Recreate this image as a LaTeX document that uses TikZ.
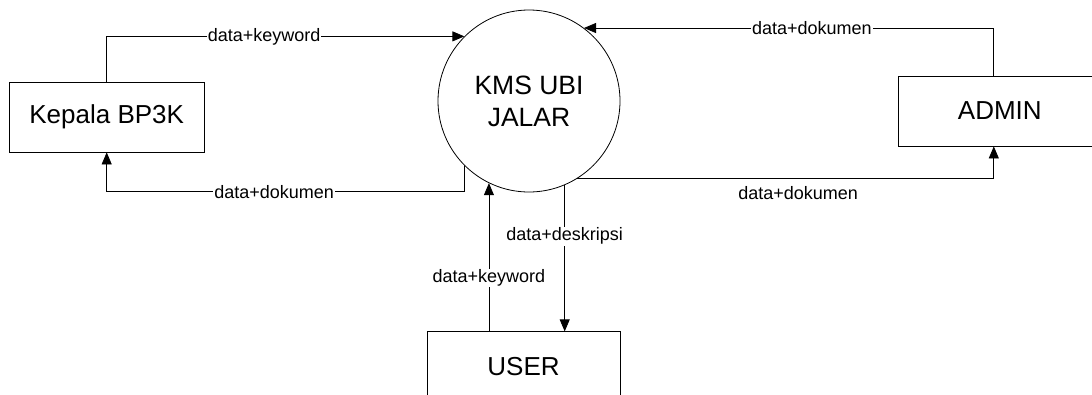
\documentclass[tikz,border=0pt]{standalone}
\usepackage{fontspec}
\setmainfont{Liberation Sans}
\usetikzlibrary{arrows.meta,positioning}

\begin{document}
\begin{tikzpicture}[x=1pt,y=-1pt,>={Triangle[length=12pt,width=10pt]},line width=0.8pt]
  \tikzstyle{entity}=[draw,rectangle,minimum width=195pt,minimum height=70pt,inner sep=0pt,font=\fontsize{26}{31}\selectfont]
  \tikzstyle{process}=[draw,circle,minimum size=182pt,inner sep=0pt,align=center,font=\fontsize{26.5}{32}\selectfont]
  \tikzstyle{flow}=[fill=white,inner sep=1pt,font=\fontsize{18}{21}\selectfont]

  \useasboundingbox (0,0) rectangle (1092,394);

  \node[process] (kms) at (529,101) {KMS UBI\\JALAR};
  \node[entity]  (kep) [left=233pt of kms,yshift=-16pt] {Kepala BP3K};
  \node[entity,minimum width=202pt] (admin) [right=278pt of kms,yshift=-10pt] {ADMIN};
  \node[entity,minimum width=193pt] (user) [below=139pt of kms,xshift=-5.5pt] {USER};

  % Kepala BP3K
  \draw[->] (kep.north) |- node[flow,pos=0.72] {data+keyword} (kms.north west);
  \draw[->] (kms.south west) -- ++(0,26) -| node[flow,pos=0.266] {data+dokumen} (kep.south);

  % ADMIN
  \draw[->] ([xshift=-6pt]admin.north) |- node[flow,pos=0.722] {data+dokumen} (kms.53);
  \draw[->] (kms.-58) -| node[flow,below=7pt,pos=0.265,fill=none] {data+dokumen} ([xshift=-6pt]admin.south);

  % USER
  \draw[->] (user.north -| kms.244) -- node[flow,pos=0.36] {data+keyword} (kms.244);
  \draw[->] (kms.-67) -- node[flow,pos=0.35] {data+deskripsi} (kms.-67 |- user.north);
\end{tikzpicture}
\end{document}
